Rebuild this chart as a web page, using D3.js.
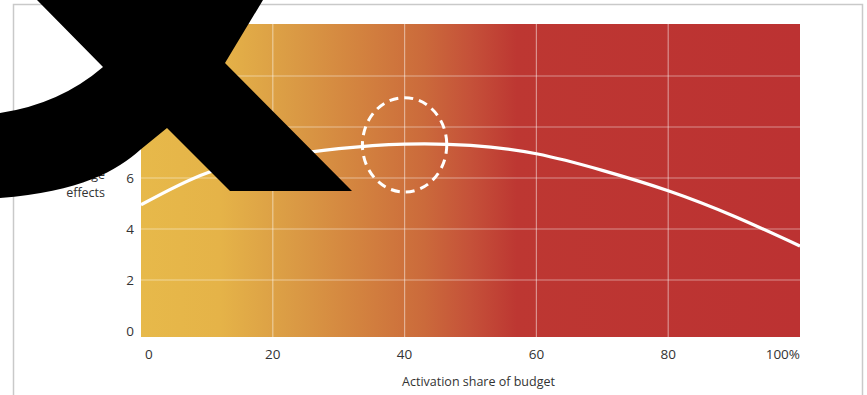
<!DOCTYPE html>
<html>
<head>
<meta charset="utf-8">
<script src="https://cdn.jsdelivr.net/npm/d3@7"></script>
<style>
  body { margin: 0; background: #fff; }
  svg { display: block; font-family: "Open Sans", "DejaVu Sans", sans-serif; }
</style>
</head>
<body>
<svg id="chart" width="867" height="395"></svg>
<script>
// Data

var shares = [0, 10, 20, 30, 40, 50, 60, 70, 80, 90, 100];
var effects = [4.95, 6.2, 6.8, 7.15, 7.33, 7.28, 6.95, 6.3, 5.5, 4.5, 3.33];

var xTicks = [0, 20, 40, 60, 80, 100];
var xTickLabels = ["0", "20", "40", "60", "80", "100%"];
var yTicks = [0, 2, 4, 6, 8, 10];
var yGrid = [2, 4, 6, 8, 10];
var xGrid = [20, 40, 60, 80];

var yTitle = ["Average", "number of", "very large", "effects"];
var xTitle = "Activation share of budget";

// highlighted optimum (centre and half sizes, data units)
var optimum = { x: 40, y: 7.3, rx: 6.4, ry: 1.85 };

// Scales

var svg = d3.select("#chart");

var x = d3.scaleLinear().domain([0, 100]).range([141, 800]);
var y = d3.scaleLinear().domain([0, 12]).range([331, 25]);

// outer frame
svg.append("rect")
    .attr("x", 13.5).attr("y", 4.5)
    .attr("width", 849).attr("height", 400)
    .attr("fill", "none")
    .attr("stroke", "#c9c9c9")
    .attr("stroke-width", 1.5);

// Background gradient, yellow -> orange -> red

var grad = svg.append("defs").append("linearGradient")
    .attr("id", "bg")
    .attr("x1", "0%").attr("x2", "100%")
    .attr("y1", "0%").attr("y2", "0%");

[["0%", "#e7b94a"], ["12%", "#e5b348"], ["22%", "#db9d45"], ["33%", "#d3833f"],
 ["43%", "#cb6a3b"], ["50%", "#c55139"], ["57%", "#bd3732"], ["100%", "#bc3232"]]
    .forEach(function (s) {
        grad.append("stop").attr("offset", s[0]).attr("stop-color", s[1]);
    });

svg.append("rect")
    .attr("x", x(0))
    .attr("y", y(12) - 1)
    .attr("width", x(100) - x(0))
    .attr("height", y(0) - y(12) + 7)
    .attr("fill", "url(#bg)");

// Grid lines

svg.selectAll(".hgrid")
    .data(yGrid)
    .enter()
    .append("line")
    .attr("class", "hgrid")
    .attr("x1", x(0)).attr("x2", x(100))
    .attr("y1", function (d) { return y(d); })
    .attr("y2", function (d) { return y(d); })
    .attr("stroke", "#fff")
    .attr("stroke-opacity", 0.45)
    .attr("stroke-width", 1.2);

svg.selectAll(".vgrid")
    .data(xGrid)
    .enter()
    .append("line")
    .attr("class", "vgrid")
    .attr("x1", function (d) { return x(d); })
    .attr("x2", function (d) { return x(d); })
    .attr("y1", y(12) - 1).attr("y2", y(0) + 6)
    .attr("stroke", "#fff")
    .attr("stroke-opacity", 0.45)
    .attr("stroke-width", 1.2);

// Tick labels

svg.selectAll(".ylab")
    .data(yTicks)
    .enter()
    .append("text")
    .attr("class", "ylab")
    .attr("x", 134)
    .attr("y", function (d) { return y(d) + 5; })
    .attr("text-anchor", "end")
    .attr("font-size", 13.5)
    .attr("fill", "#333")
    .text(function (d) { return d; });

svg.selectAll(".xlab")
    .data(xTicks)
    .enter()
    .append("text")
    .attr("class", "xlab")
    .attr("x", function (d, i) { return i === 0 ? x(d) + 4 : x(d); })
    .attr("y", 359)
    .attr("text-anchor", function (d, i) {
        return i === 0 ? "start" : i === xTicks.length - 1 ? "end" : "middle";
    })
    .attr("font-size", 13.5)
    .attr("fill", "#333")
    .text(function (d, i) { return xTickLabels[i]; });

// Axis titles

svg.append("text")
    .attr("x", (x(0) + x(100)) / 2 + 8)
    .attr("y", 386)
    .attr("text-anchor", "middle")
    .attr("font-size", 12.5)
    .attr("fill", "#333")
    .text(xTitle);

svg.selectAll(".ytitle")
    .data(yTitle)
    .enter()
    .append("text")
    .attr("class", "ytitle")
    .attr("x", 105)
    .attr("y", function (d, i) { return 197 - (yTitle.length - 1 - i) * 18; })
    .attr("text-anchor", "end")
    .attr("font-size", 12.5)
    .attr("fill", "#333")
    .text(function (d) { return d; });

// Curve

var line = d3.line()
    .x(function (d, i) { return x(shares[i]); })
    .y(function (d) { return y(d); })
    .curve(d3.curveNatural);

svg.append("path")
    .datum(effects)
    .attr("d", line)
    .attr("fill", "none")
    .attr("stroke", "#fff")
    .attr("stroke-width", 3.2);

// Dashed circle around the optimum

svg.append("ellipse")
    .attr("cx", x(optimum.x))
    .attr("cy", y(optimum.y))
    .attr("rx", x(optimum.rx) - x(0))
    .attr("ry", y(0) - y(optimum.ry))
    .attr("fill", "none")
    .attr("stroke", "#fff")
    .attr("stroke-width", 3)
    .attr("stroke-dasharray", "9,6");

// Black cross mark drawn over the top left corner

svg.append("path")
    .attr("d", "M37,0 L263,0 L225,63 L352,191 L230,191 L167,128 L140,150" +
               " C118,170 80,192 0,198 L0,113 Q60,104 103,67 Z")
    .attr("fill", "#000");
</script>
</body>
</html>
